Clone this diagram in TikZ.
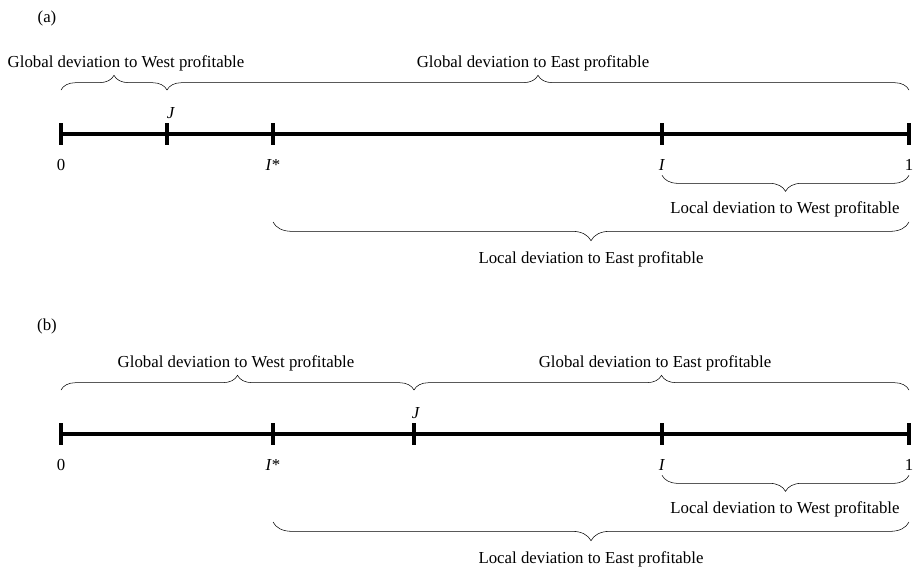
\documentclass[tikz,border=0pt]{standalone}
\usepackage{fontspec}
\setmainfont{Liberation Serif}
\usetikzlibrary{decorations.pathreplacing}

\begin{document}
\begin{tikzpicture}[x=0.75pt,y=-0.75pt,
    axisline/.style={line width=3pt},
    brc/.style={decorate,decoration={brace,amplitude=#1}},
    brc/.default=11pt,
    txt/.style={font=\fontsize{12.6}{15}\selectfont,inner sep=0pt,anchor=base}]
  \useasboundingbox (0,0) rectangle (916,569);

  % (a)
  \node[txt] (tagA) at (47,22) {(a)};
  \foreach \x/\n in {61/0,167/J,273/Is,662/I,909/1}
    \draw[axisline] (\x,123) -- (\x,145) coordinate[midway] (a\n);
  \draw[axisline] (a0) -- (a1);
  \node[txt] (la0) at (61,170) {0};
  \node[txt] (laJ) at (171,118) {\textit{J}};
  \node[txt] (laIs) at (273,170) {\textit{I}*};
  \node[txt] (laI) at (662,170) {\textit{I}};
  \node[txt] (la1) at (909,170) {1};
  \draw[brc] ([yshift=33pt]a0) -- ([yshift=33pt]aJ);
  \draw[brc] ([yshift=33pt]aJ) -- ([yshift=33pt]a1);
  \draw[brc=12pt] ([yshift=-31pt]a1) -- ([yshift=-31pt]aI);
  \draw[brc=14pt] ([yshift=-66pt]a1) -- ([yshift=-66pt]aIs);
  \node[txt] (gwA) at (126,67) {Global deviation to West profitable};
  \node[txt] (geA) at (533,67) {Global deviation to East profitable};
  \node[txt] (lwA) at (785,213) {Local deviation to West profitable};
  \node[txt] (leA) at (591,263) {Local deviation to East profitable};

  % (b)
  \node[txt] (tagB) at (47,330) {(b)};
  \foreach \x/\n in {61/0,273/Is,414/J,662/I,909/1}
    \draw[axisline] (\x,423) -- (\x,445) coordinate[midway] (b\n);
  \draw[axisline] (b0) -- (b1);
  \node[txt] (lb0) at (61,470) {0};
  \node[txt] (lbJ) at (416,418) {\textit{J}};
  \node[txt] (lbIs) at (273,470) {\textit{I}*};
  \node[txt] (lbI) at (662,470) {\textit{I}};
  \node[txt] (lb1) at (909,470) {1};
  \draw[brc] ([yshift=33pt]b0) -- ([yshift=33pt]bJ);
  \draw[brc] ([yshift=33pt]bJ) -- ([yshift=33pt]b1);
  \draw[brc=12pt] ([yshift=-31pt]b1) -- ([yshift=-31pt]bI);
  \draw[brc=14pt] ([yshift=-66pt]b1) -- ([yshift=-66pt]bIs);
  \node[txt] (gwB) at (236,367) {Global deviation to West profitable};
  \node[txt] (geB) at (655,367) {Global deviation to East profitable};
  \node[txt] (lwB) at (785,513) {Local deviation to West profitable};
  \node[txt] (leB) at (591,563) {Local deviation to East profitable};
\end{tikzpicture}
\end{document}
